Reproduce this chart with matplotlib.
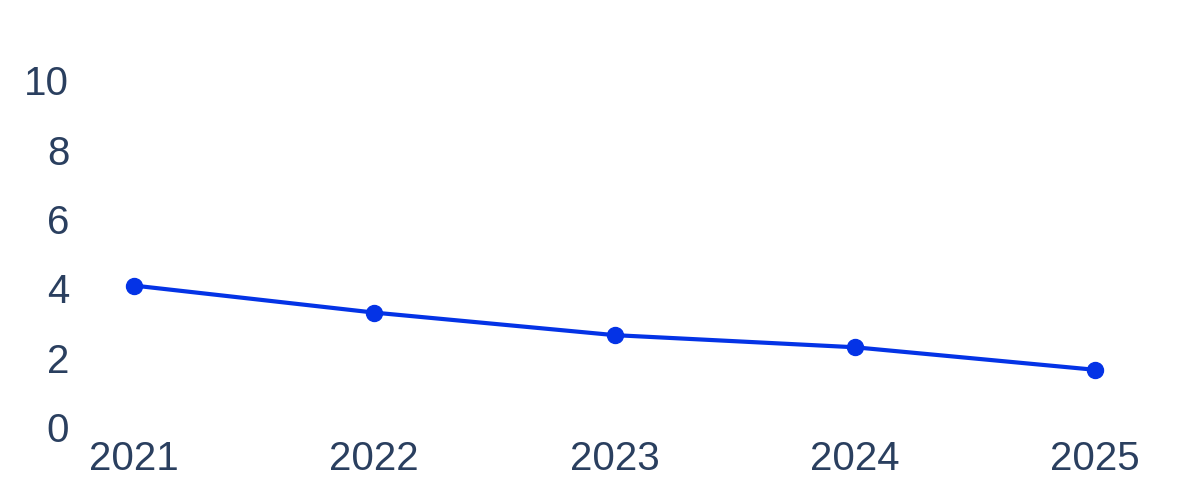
import matplotlib.pyplot as plt

years = [2021, 2022, 2023, 2024, 2025]
values = [4.08, 3.3, 2.65, 2.3, 1.65]
y_ticks = [0, 2, 4, 6, 8, 10]

plt.rcParams['font.family'] = ['Liberation Sans', 'DejaVu Sans']

fig = plt.figure(figsize=(12, 5), dpi=100)
ax = fig.add_axes([90 / 1200, 1 - 427 / 500, (1140 - 90) / 1200, (427 - 63) / 500])

ax.plot(years, values, color='#0433e6', linewidth=3.0, marker='o',
        markersize=11.5, clip_on=False)

ax.set_xlim(2020.817, 2025.187)
ax.set_ylim(0, 10.5)
ax.set_xticks(years)
ax.set_xticklabels([str(y) for y in years])
ax.set_yticks(y_ticks)

for s in ax.spines.values():
    s.set_visible(False)
ax.tick_params(axis='both', length=0, labelsize=29, labelcolor='#2a3f5f')
ax.tick_params(axis='y', pad=15)
ax.tick_params(axis='x', pad=9)

fig.savefig('out.png', dpi=100, facecolor='white')
